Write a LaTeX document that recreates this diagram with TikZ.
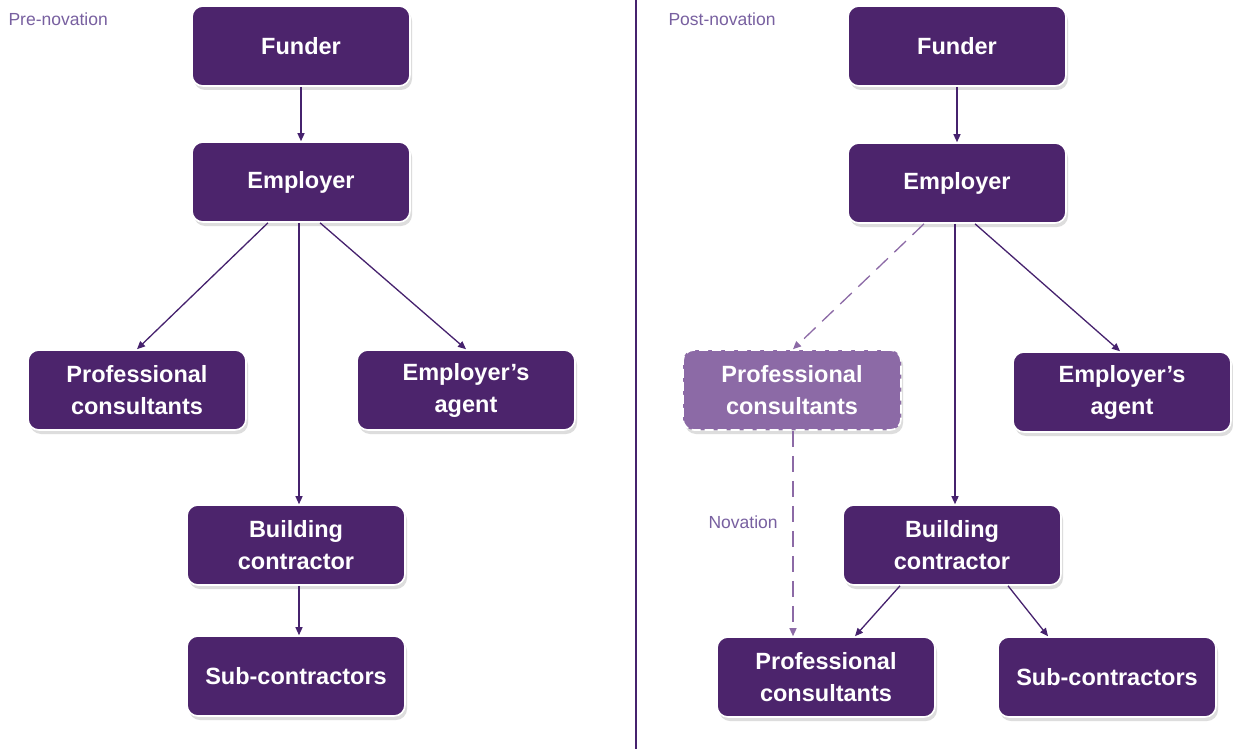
\documentclass[tikz,border=0pt]{standalone}
\usepackage{fontspec}
\setmainfont{Liberation Sans}
\usetikzlibrary{arrows.meta,shadows}
\definecolor{boxpurple}{RGB}{76,36,108}
\definecolor{fadepurple}{RGB}{140,106,166}
\definecolor{linepurple}{RGB}{70,34,110}
\definecolor{labelpurple}{RGB}{120,96,160}
\tikzset{
  pbox/.style={rectangle, rounded corners=11pt, fill=boxpurple, draw=white, line width=1.6pt,
    minimum width=218pt, minimum height=80pt, align=center, text=white,
    font=\fontsize{23.5}{32}\selectfont\bfseries,
    drop shadow={opacity=0.22, shadow xshift=2pt, shadow yshift=-4pt, fill=black!60}},
  fadebox/.style={pbox, fill=fadepurple, dash pattern=on 9pt off 4pt},
  conn/.style={draw=linepurple, line width=1.3pt, -{Triangle[length=8pt,width=7pt]}},
  dconn/.style={conn, draw=fadepurple, dash pattern=on 16pt off 9pt},
  tag/.style={text=labelpurple, font=\fontsize{17.5}{20}\selectfont, anchor=west},
}
\begin{document}
\begin{tikzpicture}[x=1pt,y=-1pt]
\useasboundingbox[fill=white] (0,0) rectangle (1233,749);
% divider
\draw[linepurple, line width=2.2pt] (636,0) -- (636,749);
% left
\node[tag] (pre) at (5,19) {Pre-novation};
\node[pbox] (lf) at (301,46) {Funder};
\node[pbox] (le) at (301,182) {Employer};
\node[pbox] (lpc) at (137,390) {Professional\\consultants};
\node[pbox] (lea) at (466,390) {Employer's\\agent};
\node[pbox] (lbc) at (296,545) {Building\\contractor};
\node[pbox] (lsc) at (296,676) {Sub-contractors};
\draw[conn] (lf.south) -- (le.north);
\draw[conn] ([xshift=-33pt]le.south) -- (lpc.north);
\draw[conn] ([xshift=-2pt]le.south) -- ([xshift=3pt]lbc.north);
\draw[conn] ([xshift=19pt]le.south) -- (lea.north);
\draw[conn] ([xshift=3pt]lbc.south) -- ([xshift=3pt]lsc.north);
% right
\node[tag] (post) at (665,19) {Post-novation};
\node[pbox] (rf) at (957,46) {Funder};
\node[pbox] (re) at (957,183) {Employer};
\node[fadebox] (rpc) at (792,390) {Professional\\consultants};
\node[pbox] (rea) at (1122,392) {Employer's\\agent};
\node[pbox] (rbc) at (952,545) {Building\\contractor};
\node[pbox] (rpc2) at (826,677) {Professional\\consultants};
\node[pbox] (rsc) at (1107,677) {Sub-contractors};
\draw[conn] (rf.south) -- (re.north);
\draw[dconn] ([xshift=-33pt]re.south) -- ([xshift=1pt]rpc.north);
\draw[conn] ([xshift=-2pt]re.south) -- ([xshift=3pt]rbc.north);
\draw[conn] ([xshift=18pt]re.south) -- ([xshift=-2pt]rea.north);
\draw[dconn] ([xshift=1pt]rpc.south) -- ([xshift=-33pt]rpc2.north);
\node[tag] (nov) at (705,522) {Novation};
\draw[conn] ([xshift=-52pt]rbc.south) -- ([xshift=29pt]rpc2.north);
\draw[conn] ([xshift=56pt]rbc.south) -- ([xshift=-59pt]rsc.north);
\end{tikzpicture}
\end{document}
